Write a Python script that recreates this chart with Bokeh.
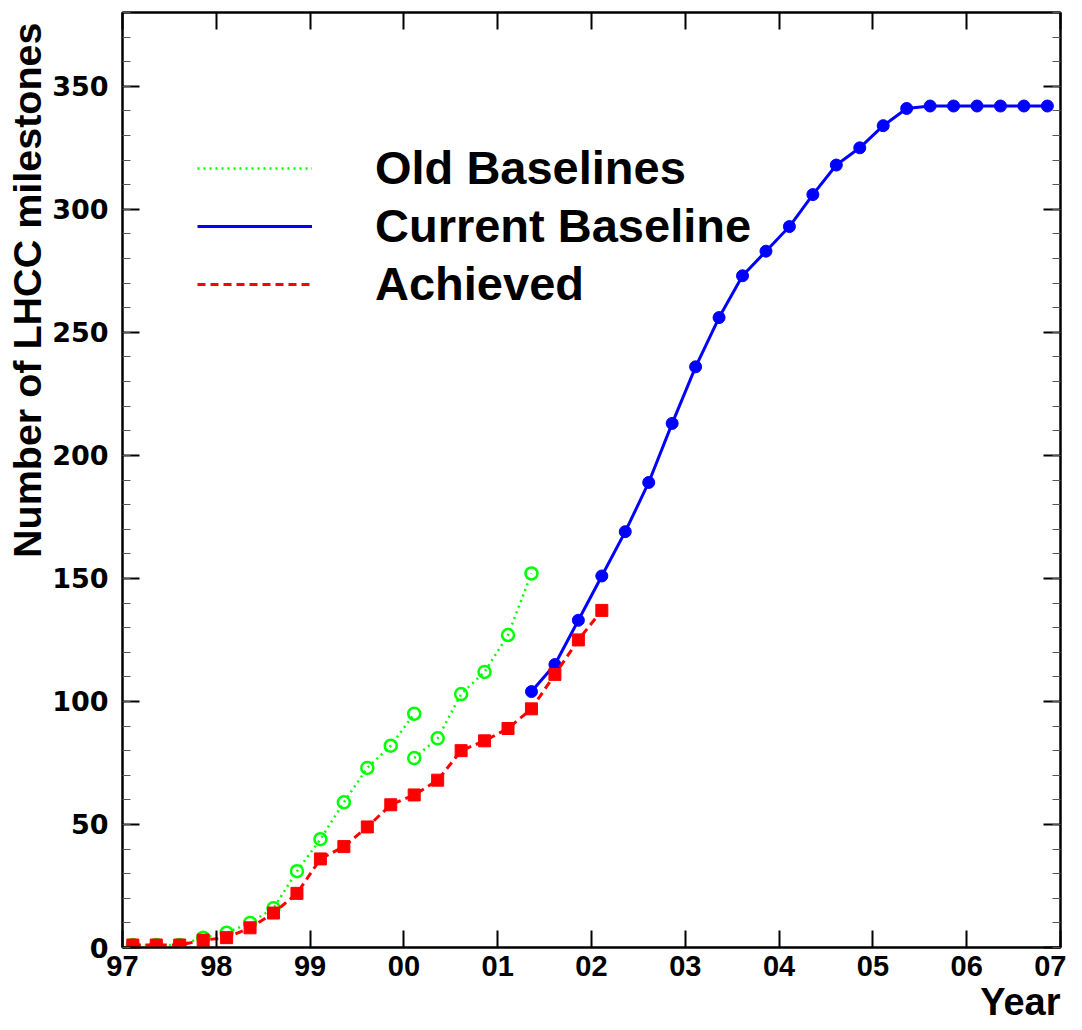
from bokeh.plotting import figure
from bokeh.models import (Range1d, FixedTicker, SingleIntervalTicker, LinearAxis,
                          Legend, LegendItem, Title)
from bokeh.embed import file_html
from bokeh.resources import INLINE

# ---- data ----
year_ticks = [1997, 1998, 1999, 2000, 2001, 2002, 2003, 2004, 2005, 2006, 2007]
year_labels = ["97", "98", "99", "00", "01", "02", "03", "04", "05", "06", "07"]

old1_x = [1997.11, 1997.36, 1997.61, 1997.86, 1998.11, 1998.36, 1998.61, 1998.86,
          1999.11, 1999.36, 1999.61, 1999.86, 2000.11]
old1_y = [1, 1, 1, 4, 6, 10, 16, 31, 44, 59, 73, 82, 95]

old2_x = [2000.11, 2000.36, 2000.61, 2000.86, 2001.11, 2001.36]
old2_y = [77, 85, 103, 112, 127, 152]

cur_x = [2001.36, 2001.61, 2001.86, 2002.11, 2002.36, 2002.61, 2002.86, 2003.11,
         2003.36, 2003.61, 2003.86, 2004.11, 2004.36, 2004.61, 2004.86, 2005.11,
         2005.36, 2005.61, 2005.86, 2006.11, 2006.36, 2006.61, 2006.86]
cur_y = [104, 115, 133, 151, 169, 189, 213, 236, 256, 273, 283, 293, 306, 318,
         325, 334, 341, 342, 342, 342, 342, 342, 342]

ach_x = [1997.11, 1997.36, 1997.61, 1997.86, 1998.11, 1998.36, 1998.61, 1998.86,
         1999.11, 1999.36, 1999.61, 1999.86, 2000.11, 2000.36, 2000.61, 2000.86,
         2001.11, 2001.36, 2001.61, 2001.86, 2002.11]
ach_y = [1, 1, 1, 3, 4, 8, 14, 22, 36, 41, 49, 58, 62, 68, 80, 84, 89, 97, 111, 125, 137]

GREEN = "#00ff00"
BLUE = "#0000ff"
RED = "#ff0000"
FONT = "Liberation Sans"

p = figure(width=1066, height=1022, output_backend="svg", toolbar_location=None,
           x_range=Range1d(1997, 2007), y_range=Range1d(0, 380),
           x_axis_location=None, y_axis_location=None)
p.min_border_left = 122
p.min_border_right = 6
p.min_border_top = 12
p.min_border_bottom = 0
p.xgrid.visible = False
p.ygrid.visible = False
p.outline_line_color = "black"
p.outline_line_width = 2
p.background_fill_color = "white"
p.border_fill_color = "white"

xt = FixedTicker(ticks=year_ticks, minor_ticks=[])
yt = SingleIntervalTicker(interval=50, num_minor_ticks=5)
overrides = {t: l for t, l in zip(year_ticks, year_labels)}


def style_axis(ax, labels):
    ax.axis_line_width = 2
    ax.axis_line_color = "black"
    ax.major_tick_in = 17
    ax.major_tick_out = 0
    ax.minor_tick_in = 8
    ax.minor_tick_out = 0
    ax.major_tick_line_width = 2
    ax.minor_tick_line_width = 1
    ax.major_tick_line_color = "black"
    ax.minor_tick_line_color = "#555555"
    ax.major_label_text_color = "black"
    if not labels:
        ax.major_label_text_color = None
        ax.major_label_text_font_size = "1px"
        ax.major_label_standoff = 0


xb = LinearAxis(ticker=xt, major_label_overrides=overrides)
style_axis(xb, True)
xb.major_label_text_font = FONT
xb.major_label_text_font_style = "bold"
xb.major_label_text_font_size = "29px"
xb.major_label_standoff = 8
p.add_layout(xb, "below")

xtop = LinearAxis(ticker=xt)
style_axis(xtop, False)
p.add_layout(xtop, "above")

yl = LinearAxis(ticker=yt)
style_axis(yl, True)
yl.major_label_text_font = "DejaVu Sans"
yl.major_label_text_font_style = "bold"
yl.major_label_text_font_size = "27px"
yl.major_label_standoff = 14
p.add_layout(yl, "left")

yr = LinearAxis(ticker=yt)
style_axis(yr, False)
p.add_layout(yr, "right")

ytitle = Title(text="Number of LHCC milestones", align="right", offset=10,
               text_font=FONT, text_font_size="39.5px", text_font_style="bold",
               text_color="black", standoff=2)
p.add_layout(ytitle, "left")

xtitle = Title(text="Year", align="right", text_font=FONT, text_font_size="38px",
               text_font_style="bold", text_color="black", standoff=0)
p.add_layout(xtitle, "below")

# ---- series ----
g1 = p.line(old1_x, old1_y, line_color=GREEN, line_width=2.5, line_dash="2 4")
p.scatter(old1_x, old1_y, marker="circle", size=12, fill_color=None,
          line_color=GREEN, line_width=2.5)
g2 = p.line(old2_x, old2_y, line_color=GREEN, line_width=2.5, line_dash="2 4")
p.scatter(old2_x, old2_y, marker="circle", size=12, fill_color=None,
          line_color=GREEN, line_width=2.5)

b = p.line(cur_x, cur_y, line_color=BLUE, line_width=3)
p.scatter(cur_x, cur_y, marker="circle", size=12, fill_color=BLUE, line_color=BLUE)

r = p.line(ach_x, ach_y, line_color=RED, line_width=3, line_dash="8 5")
p.scatter(ach_x, ach_y, marker="square", size=12, fill_color=RED, line_color=RED)

legend = Legend(items=[LegendItem(label="Old Baselines", renderers=[g1]),
                       LegendItem(label="Current Baseline", renderers=[b]),
                       LegendItem(label="Achieved", renderers=[r])],
                location=(75, 636))
legend.border_line_color = None
legend.background_fill_alpha = 0
legend.padding = 0
legend.margin = 0
legend.spacing = 3
legend.glyph_width = 115
legend.glyph_height = 40
legend.label_height = 40
legend.label_standoff = 63
legend.label_text_font = FONT
legend.label_text_font_style = "bold"
legend.label_text_font_size = "47px"
legend.label_text_color = "black"
p.add_layout(legend, "center")

open("out.html", "w").write(file_html(p, INLINE))
